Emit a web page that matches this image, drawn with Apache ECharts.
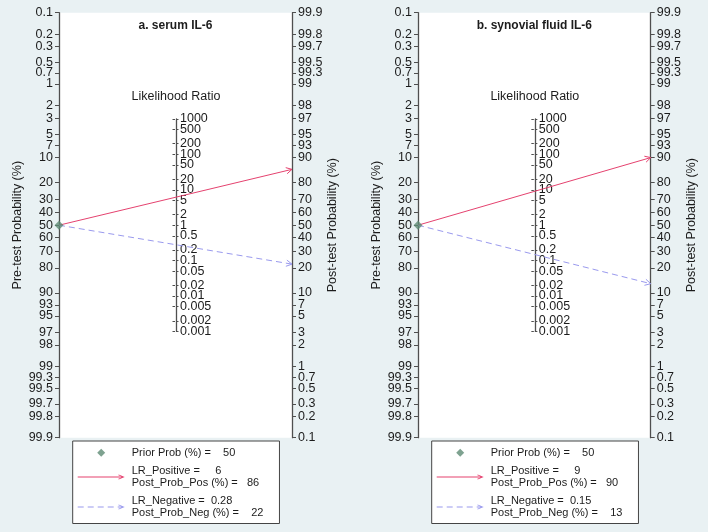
<!DOCTYPE html>
<html>
<head>
<meta charset="utf-8">
<script src="https://cdn.jsdelivr.net/npm/echarts@6/dist/echarts.min.js"></script>
<style>
html,body{margin:0;padding:0;background:#E9F1F3;}
#chart{width:708px;height:532px;}
</style>
</head>
<body>
<div id="chart"></div>
<script>
// ---------- data ----------
const panelTitles = ['a. serum IL-6', 'b. synovial fluid IL-6'];
const panelKeys = ['a', 'b'];
const priorProb = [50, 50];
const lrPositive = [6, 9];
const postProbPos = [86, 90];
const lrNegative = [0.28, 0.15];
const postProbNeg = [22, 13];
const probTicks = [0.1, 0.2, 0.3, 0.5, 0.7, 1, 2, 3, 5, 7, 10, 20, 30, 40, 50, 60, 70, 80, 90, 93, 95, 97, 98, 99, 99.3, 99.5, 99.7, 99.8, 99.9];
const lrTicks = [1000, 500, 200, 100, 50, 20, 10, 5, 2, 1, 0.5, 0.2, 0.1, 0.05, 0.02, 0.01, 0.005, 0.002, 0.001];

// ---------- styles / layout ----------
const FONT = '"Liberation Sans", Arial, Helvetica, sans-serif';
const TXT = '#1c1c1c';
const AXIS = '#4f4f4f';
const RED = '#E5426F';
const LAV = '#9A9AEE';
const DIAM = '#5E8B74';
const panels = [{ left: 59, right: 292 }, { left: 418, right: 650.7 }];
const TOP = 12.7, BOTTOM = 437.7, H = BOTTOM - TOP;

const logit = p => Math.log(p / (100 - p));
const VMAX = Math.log(999);
const EPS = 1e-6;
const LRMAX = Math.log(1000) / 2;

const leftV = probTicks.map(p => -logit(p));
const rightV = probTicks.map(p => logit(p));
const lrV = lrTicks.map(l => Math.log(l) / 2);
// LR labels split into two interleaved sets so that dense labels are all kept
const lrVA = lrV.filter((v, j) => j % 2 === 0);
const lrVB = lrV.filter((v, j) => j % 2 === 1);

function nearestLabel(vals, labels) {
  return function (val) {
    let best = 0, bd = Infinity;
    for (let i = 0; i < vals.length; i++) {
      const d = Math.abs(vals[i] - val);
      if (d < bd) { bd = d; best = i; }
    }
    return String(labels[best]);
  };
}

const grid = [], xAxis = [], yAxis = [], series = [], legend = [], graphic = [];

panels.forEach((pn, i) => {
  const k = panelKeys[i];
  const W = pn.right - pn.left;
  const cx = (pn.left + pn.right) / 2;
  const mainG = grid.length;
  grid.push({ left: pn.left, top: TOP, width: W, height: H, show: true, backgroundColor: '#ffffff', borderWidth: 0 });
  xAxis.push({ gridIndex: mainG, type: 'value', min: 0, max: 1, show: false });
  const cTop = TOP + (VMAX - LRMAX) / (2 * VMAX) * H;
  const cH = (2 * LRMAX) / (2 * VMAX) * H;
  const cenG = grid.length;
  grid.push({ left: cx - 0.5, top: cTop, width: 1, height: cH, show: false });
  xAxis.push({ gridIndex: cenG, type: 'value', min: 0, max: 1, show: false });
  const cenG2 = grid.length;
  grid.push({ left: cx - 0.5, top: cTop, width: 1, height: cH, show: false });
  xAxis.push({ gridIndex: cenG2, type: 'value', min: 0, max: 1, show: false });

  const baseY = {
    type: 'value', min: -VMAX - EPS, max: VMAX + EPS, splitLine: { show: false },
    axisLine: { show: true, lineStyle: { color: AXIS, width: 1.3 } },
  };
  const lblBase = { margin: 6, fontSize: 12.5, fontFamily: FONT, color: TXT, showMinLabel: true, showMaxLabel: true };
  const yL = yAxis.length;
  yAxis.push(Object.assign({}, baseY, {
    gridIndex: mainG, position: 'left',
    axisTick: { show: true, length: 4, customValues: leftV, lineStyle: { color: AXIS, width: 1 } },
    axisLabel: Object.assign({}, lblBase, { customValues: leftV, formatter: nearestLabel(leftV, probTicks) }),
    name: 'Pre-test Probability (%)', nameLocation: 'middle', nameRotate: 90, nameGap: 35,
    nameTextStyle: { fontSize: 12.5, fontFamily: FONT, color: TXT }
  }));
  yAxis.push(Object.assign({}, baseY, {
    gridIndex: mainG, position: 'right',
    axisTick: { show: true, length: 4, customValues: rightV, lineStyle: { color: AXIS, width: 1 } },
    axisLabel: Object.assign({}, lblBase, { customValues: rightV, formatter: nearestLabel(rightV, probTicks) }),
    name: 'Post-test Probability (%)', nameLocation: 'middle', nameRotate: 90, nameGap: 33,
    nameTextStyle: { fontSize: 12.5, fontFamily: FONT, color: TXT }
  }));
  const baseC = {
    type: 'value', min: -LRMAX - EPS, max: LRMAX + EPS, splitLine: { show: false }
  };
  yAxis.push(Object.assign({}, baseC, {
    gridIndex: cenG, position: 'left',
    axisLine: { show: false },
    axisTick: { show: true, length: 2.5, customValues: lrV, lineStyle: { color: AXIS, width: 1 } },
    axisLabel: { show: false }
  }));
  yAxis.push(Object.assign({}, baseC, {
    gridIndex: cenG, position: 'right',
    axisLine: { show: true, lineStyle: { color: AXIS, width: 1.3 } },
    axisTick: { show: true, length: 2.5, customValues: lrV, lineStyle: { color: AXIS, width: 1 } },
    axisLabel: Object.assign({}, lblBase, { margin: 4, customValues: lrVA, formatter: nearestLabel(lrV, lrTicks) }),
    name: 'Likelihood Ratio', nameLocation: 'end', nameGap: 16,
    nameTextStyle: { fontSize: 12.5, fontFamily: FONT, color: TXT, align: 'center' }
  }));
  yAxis.push(Object.assign({}, baseC, {
    gridIndex: cenG2, position: 'right',
    axisLine: { show: false },
    axisTick: { show: false },
    axisLabel: Object.assign({}, lblBase, { margin: 4, customValues: lrVB, formatter: nearestLabel(lrV, lrTicks) })
  }));

  const vPrior = -logit(priorProb[i]);
  function arrowItem(color, dash) {
    return function (params, api) {
      const a = api.coord([api.value(0), api.value(1)]);
      const b = api.coord([api.value(2), api.value(3)]);
      const ang = Math.atan2(b[1] - a[1], b[0] - a[0]);
      const L = 6.5, hw = 0.5;
      const p1 = [b[0] - L * Math.cos(ang - hw), b[1] - L * Math.sin(ang - hw)];
      const p2 = [b[0] - L * Math.cos(ang + hw), b[1] - L * Math.sin(ang + hw)];
      return {
        type: 'group', children: [
          { type: 'line', shape: { x1: a[0], y1: a[1], x2: b[0], y2: b[1] }, style: { stroke: color, lineWidth: 1, lineDash: dash, fill: null } },
          { type: 'polyline', shape: { points: [p1, b, p2] }, style: { stroke: color, lineWidth: 1, fill: null } }
        ]
      };
    };
  }
  series.push({
    name: k + '_pos', type: 'custom', xAxisIndex: mainG, yAxisIndex: yL, clip: false,
    itemStyle: { color: RED },
    renderItem: arrowItem(RED, null),
    encode: { x: [0, 2], y: [1, 3] },
    data: [[0, vPrior, 1, logit(postProbPos[i])]], z: 3
  });
  series.push({
    name: k + '_neg', type: 'custom', xAxisIndex: mainG, yAxisIndex: yL, clip: false,
    itemStyle: { color: LAV },
    renderItem: arrowItem(LAV, [6, 4]),
    encode: { x: [0, 2], y: [1, 3] },
    data: [[0, vPrior, 1, logit(postProbNeg[i])]], z: 3
  });
  series.push({
    name: k + '_prior', type: 'scatter', xAxisIndex: mainG, yAxisIndex: yL, clip: false,
    symbol: 'diamond', symbolSize: 9, itemStyle: { color: DIAM },
    data: [[0, vPrior]], z: 5
  });

  const texts = {};
  texts[k + '_prior'] = 'Prior Prob (%) =    ' + priorProb[i];
  texts[k + '_pos'] = 'LR_Positive =     ' + lrPositive[i] + '\nPost_Prob_Pos (%) =   ' + postProbPos[i];
  texts[k + '_neg'] = 'LR_Negative =  ' + lrNegative[i] + '\nPost_Prob_Neg (%) =    ' + postProbNeg[i];

  const box = 'M0,0L0,0L0,0ZM49,9L49,9L49,9Z';
  const diamondIcon = 'path://' + box + 'M23.5,0.5L27.5,4.5L23.5,8.5L19.5,4.5Z';
  const solidIcon = 'path://' + box + 'M0,4L46,4L46,5L0,5ZM41,2L47,4.5L41,7L40.6,6.3L45.4,4.5L40.6,2.7Z';
  const dashIcon = 'path://' + box + 'M0,4L6,4L6,5L0,5ZM10,4L16,4L16,5L10,5ZM20,4L26,4L26,5L20,5ZM30,4L36,4L36,5L30,5ZM40,4L46,4L46,5L40,5ZM41,2L47,4.5L41,7L40.6,6.3L45.4,4.5L40.6,2.7Z';

  legend.push({
    orient: 'vertical', left: pn.left + 13.7, top: 441,
    padding: [6, 16, 5, 5], itemWidth: 49, itemHeight: 9, itemGap: 7,
    backgroundColor: '#ffffff', borderColor: '#444', borderWidth: 1, borderRadius: 0,
    selectedMode: false, align: 'left',
    textStyle: { fontSize: 11, fontFamily: FONT, color: TXT, lineHeight: 11.5 },
    formatter: name => texts[name],
    data: [
      { name: k + '_prior', icon: diamondIcon, itemStyle: { color: DIAM, borderWidth: 0 } },
      { name: k + '_pos', icon: solidIcon, itemStyle: { color: RED, borderWidth: 0 } },
      { name: k + '_neg', icon: dashIcon, itemStyle: { color: LAV, borderWidth: 0 } }
    ]
  });

  graphic.push({
    type: 'text', x: cx, y: 26,
    style: { text: panelTitles[i], align: 'center', verticalAlign: 'middle', font: 'bold 12px ' + FONT, fill: TXT }
  });
});

const chart = echarts.init(document.getElementById('chart'), null, { renderer: 'canvas' });
chart.setOption({
  backgroundColor: '#E9F1F3',
  animation: false,
  grid, xAxis, yAxis, series, legend, graphic
});
</script>
</body>
</html>
